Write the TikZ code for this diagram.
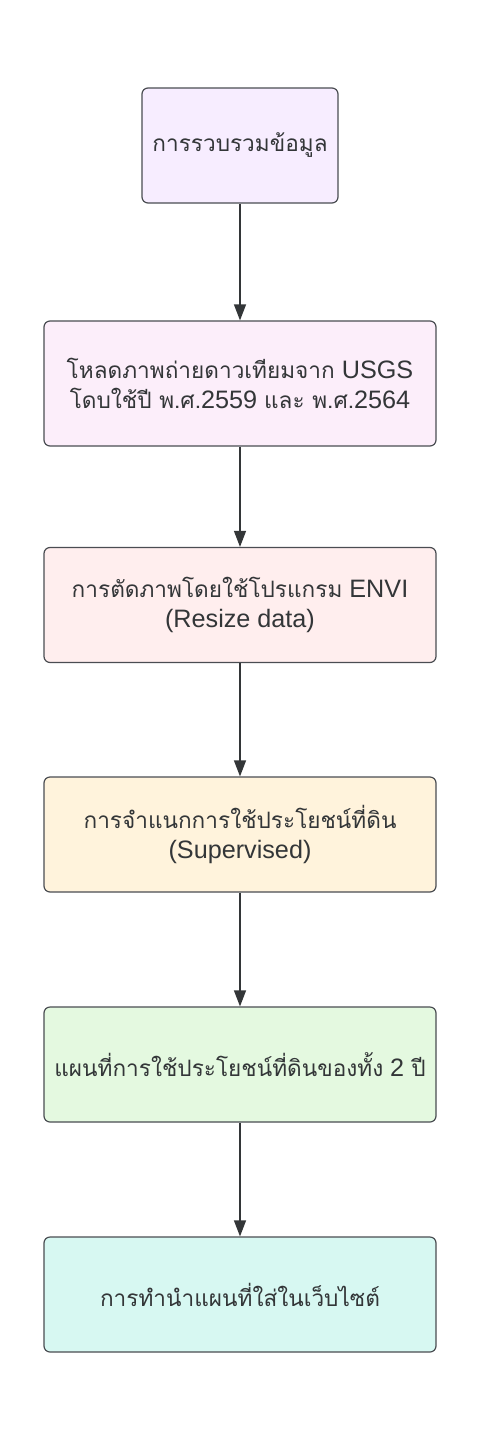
\documentclass[tikz,border=0pt]{standalone}
\usepackage{xcolor}
\usepackage{fontspec}
\setmainfont{Liberation Sans}
\newfontfamily\thaifont[Script=Thai]{Loma}
\newcommand{\thai}[1]{{\thaifont\fontsize{11.3}{15}\selectfont #1}}
\usepackage{tikz}
\usetikzlibrary{calc,arrows.meta}

\definecolor{ramecek}{HTML}{4A4D52}
\definecolor{pismo}{HTML}{333638}
\definecolor{fialova}{HTML}{F7EDFF}
\definecolor{ruzova}{HTML}{FCEEFA}
\definecolor{cervena}{HTML}{FFEEEE}
\definecolor{zluta}{HTML}{FFF3DC}
\definecolor{zelena}{HTML}{E4F9E0}
\definecolor{tyrkys}{HTML}{D7F8F2}

\begin{document}
\begin{tikzpicture}[x=0.5pt,y=0.5pt,
 box/.style={
    rectangle,
    draw=ramecek,
    line width=0.6pt,
    text=pismo,
    align=center,
    rounded corners=3pt,
    minimum width=196pt,
    minimum height=57.5pt,
    font=\fontsize{12.6}{15}\selectfont
   },
 sipka/.style={
    draw=pismo,
    line width=0.6pt,
    -{Triangle[length=8pt,width=6pt]}
   }
 ]
 \useasboundingbox[fill=white] (0,0) rectangle (481,-1440);

 %sběr dat
 \node[box, fill=fialova, minimum width=98pt] (sber) at (240,-145.5) {\thai{การรวบรวมข้อมูล}};

 %stažení snímků
 \node[box, fill=ruzova, minimum height=62.5pt] (stazeni) at ($(sber)+(0,-238)$)
  {\thai{โหลดภาพถ่ายดาวเทียมจาก} USGS\\\thai{โดบใช้ปี พ.ศ.}2559 \thai{และ พ.ศ.}2564};

 %ořez
 \node[box, fill=cervena] (orez) at ($(sber)+(0,-459.5)$)
  {\thai{การตัดภาพโดยใช้โปรแกรม} ENVI\\(Resize data)};

 %klasifikace
 \node[box, fill=zluta] (klasif) at ($(sber)+(0,-689)$)
  {\thai{การจำแนกการใช้ประโยชน์ที่ดิน}\\(Supervised)};

 %mapa
 \node[box, fill=zelena] (mapa) at ($(sber)+(0,-919)$)
  {\thai{แผนที่การใช้ประโยชน์ที่ดินของทั้ง} 2 \thai{ปี}};

 %web
 \node[box, fill=tyrkys] (web) at ($(sber)+(0,-1149)$)
  {\thai{การทำนำแผนที่ใส่ในเว็บไซต์}};

 %šipky
 \draw[sipka] (sber) -- (stazeni);
 \draw[sipka] (stazeni) -- (orez);
 \draw[sipka] (orez) -- (klasif);
 \draw[sipka] (klasif) -- (mapa);
 \draw[sipka] (mapa) -- (web);
\end{tikzpicture}
\end{document}
